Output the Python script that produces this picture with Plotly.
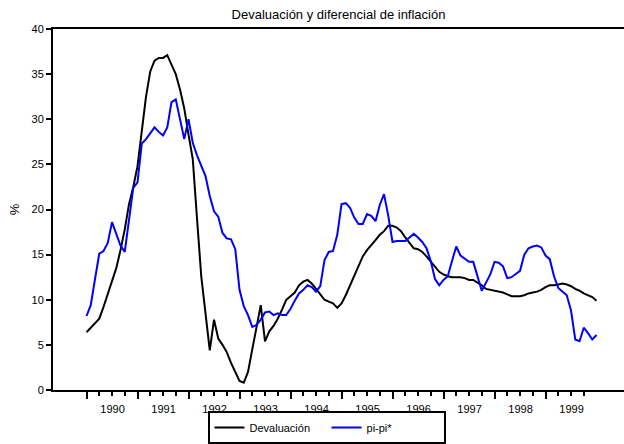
import numpy as np
import plotly.graph_objects as go

# monthly series, Jan 1990 .. Jan 2000
devaluacion = [
    6.4, 6.9, 7.4, 7.9, 9.2, 10.6, 12.1, 13.5, 15.5, 17.8, 20.6, 22.5,
    24.8, 28.5, 32.5, 35.3, 36.5, 36.8, 36.8, 37.1, 36.0, 35.0, 33.3, 31.2,
    28.3, 25.6, 19.0, 12.6, 8.5, 4.4, 7.8, 5.7, 5.0, 4.2, 3.0, 1.9,
    1.0, 0.8, 2.0, 4.5, 6.9, 9.4, 5.4, 6.5, 7.1, 7.9, 8.9, 10.0,
    10.4, 10.8, 11.6, 12.0, 12.2, 11.8, 11.2, 10.6, 10.0, 9.8, 9.6, 9.1,
    9.6, 10.5, 11.6, 12.8, 13.9, 14.8, 15.5, 16.0, 16.6, 17.2, 17.6, 18.2,
    18.2, 18.0, 17.6, 16.9, 16.3, 15.7, 15.6, 15.3, 14.8, 14.2, 13.6, 13.1,
    12.8, 12.6, 12.5, 12.5, 12.5, 12.4, 12.2, 12.2, 11.9, 11.6, 11.2, 11.1,
    11.0, 10.9, 10.8, 10.6, 10.4, 10.4, 10.4, 10.5, 10.7, 10.8, 10.9, 11.1,
    11.4, 11.6, 11.6, 11.7, 11.8, 11.7, 11.5, 11.2, 11.0, 10.7, 10.5, 10.3,
    9.9,
]
pi_pi = [
    8.2, 9.4, 12.3, 15.1, 15.4, 16.3, 18.6, 17.2, 16.0, 15.3, 18.9, 22.4,
    23.0, 27.3, 27.8, 28.5, 29.1, 28.6, 28.2, 29.1, 31.9, 32.2, 30.0, 27.8,
    30.0, 27.4, 26.0, 24.8, 23.7, 21.5, 19.8, 19.2, 17.4, 16.8, 16.7, 15.6,
    11.1, 9.3, 8.3, 7.0, 7.2, 7.8, 8.6, 8.7, 8.3, 8.5, 8.3, 8.3,
    9.0, 9.9, 10.7, 11.1, 11.6, 11.4, 10.9, 11.5, 14.4, 15.3, 15.4, 17.2,
    20.6, 20.7, 20.2, 19.1, 18.4, 18.4, 19.5, 19.3, 18.7, 20.5, 21.7, 19.3,
    16.4, 16.5, 16.5, 16.5, 16.9, 17.3, 16.9, 16.4, 15.7, 14.3, 12.3, 11.6,
    12.2, 12.6, 14.3, 15.9, 14.9, 14.5, 14.2, 14.2, 12.5, 11.0, 11.9, 12.8,
    14.2, 14.1, 13.7, 12.4, 12.5, 12.9, 13.2, 15.0, 15.7, 15.9, 16.0, 15.8,
    14.9, 14.5, 12.6, 11.3, 10.9, 10.5, 8.8, 5.6, 5.4, 6.9, 6.3, 5.6,
    6.1,
]
years = list(range(1990, 2000))
year_labels = [str(y) for y in years]

x = 1990 + np.arange(len(devaluacion)) / 12.0
quarters = [y + q for y in years for q in (0.25, 0.5, 0.75)]

font = "Liberation Sans, Arial, sans-serif"

fig = go.Figure()
fig.add_trace(go.Scatter(x=x, y=devaluacion, name="Devaluación", mode="lines",
                         line=dict(color="black", width=2)))
fig.add_trace(go.Scatter(x=x, y=pi_pi, name="pi-pi*", mode="lines",
                         line=dict(color="#0000ff", width=2)))

fig.update_layout(
    width=624, height=444,
    margin=dict(l=53, r=0, t=29, b=54, autoexpand=False),
    plot_bgcolor="white", paper_bgcolor="white",
    font=dict(family=font, size=11, color="black"),
    title=dict(text="Devaluación y diferencial de inflación", x=0.5, xref="paper",
               y=0.967, yanchor="middle", font=dict(size=13)),
    xaxis=dict(
        range=[1989.343, 2000.539], showgrid=False, zeroline=False, automargin=False,
        showline=True, linecolor="black", linewidth=2, mirror=True,
        tickmode="array", tickvals=years, ticktext=year_labels,
        ticks="outside", ticklen=7, tickwidth=2, tickcolor="black",
        ticklabelshift=26, ticklabelstandoff=1,
        minor=dict(tickmode="array", tickvals=quarters, ticks="outside",
                   ticklen=4, tickwidth=2, tickcolor="black"),
    ),
    yaxis=dict(
        range=[0, 40], dtick=5, showgrid=False, zeroline=False, automargin=False,
        showline=True, linecolor="black", linewidth=2,
        ticks="outside", ticklen=5, tickwidth=2, tickcolor="black",
        title=dict(text="%", standoff=9),
    ),
    legend=dict(orientation="h", x=0.479, xanchor="center", y=-0.058, yanchor="top",
                entrywidth=72, bordercolor="black", borderwidth=2, font=dict(size=11)),
)

# drop the page's default body margin so the figure sits at the window corner
fig.write_html("out.html", config={"displayModeBar": False},
               post_script="document.body.style.margin='0';")
